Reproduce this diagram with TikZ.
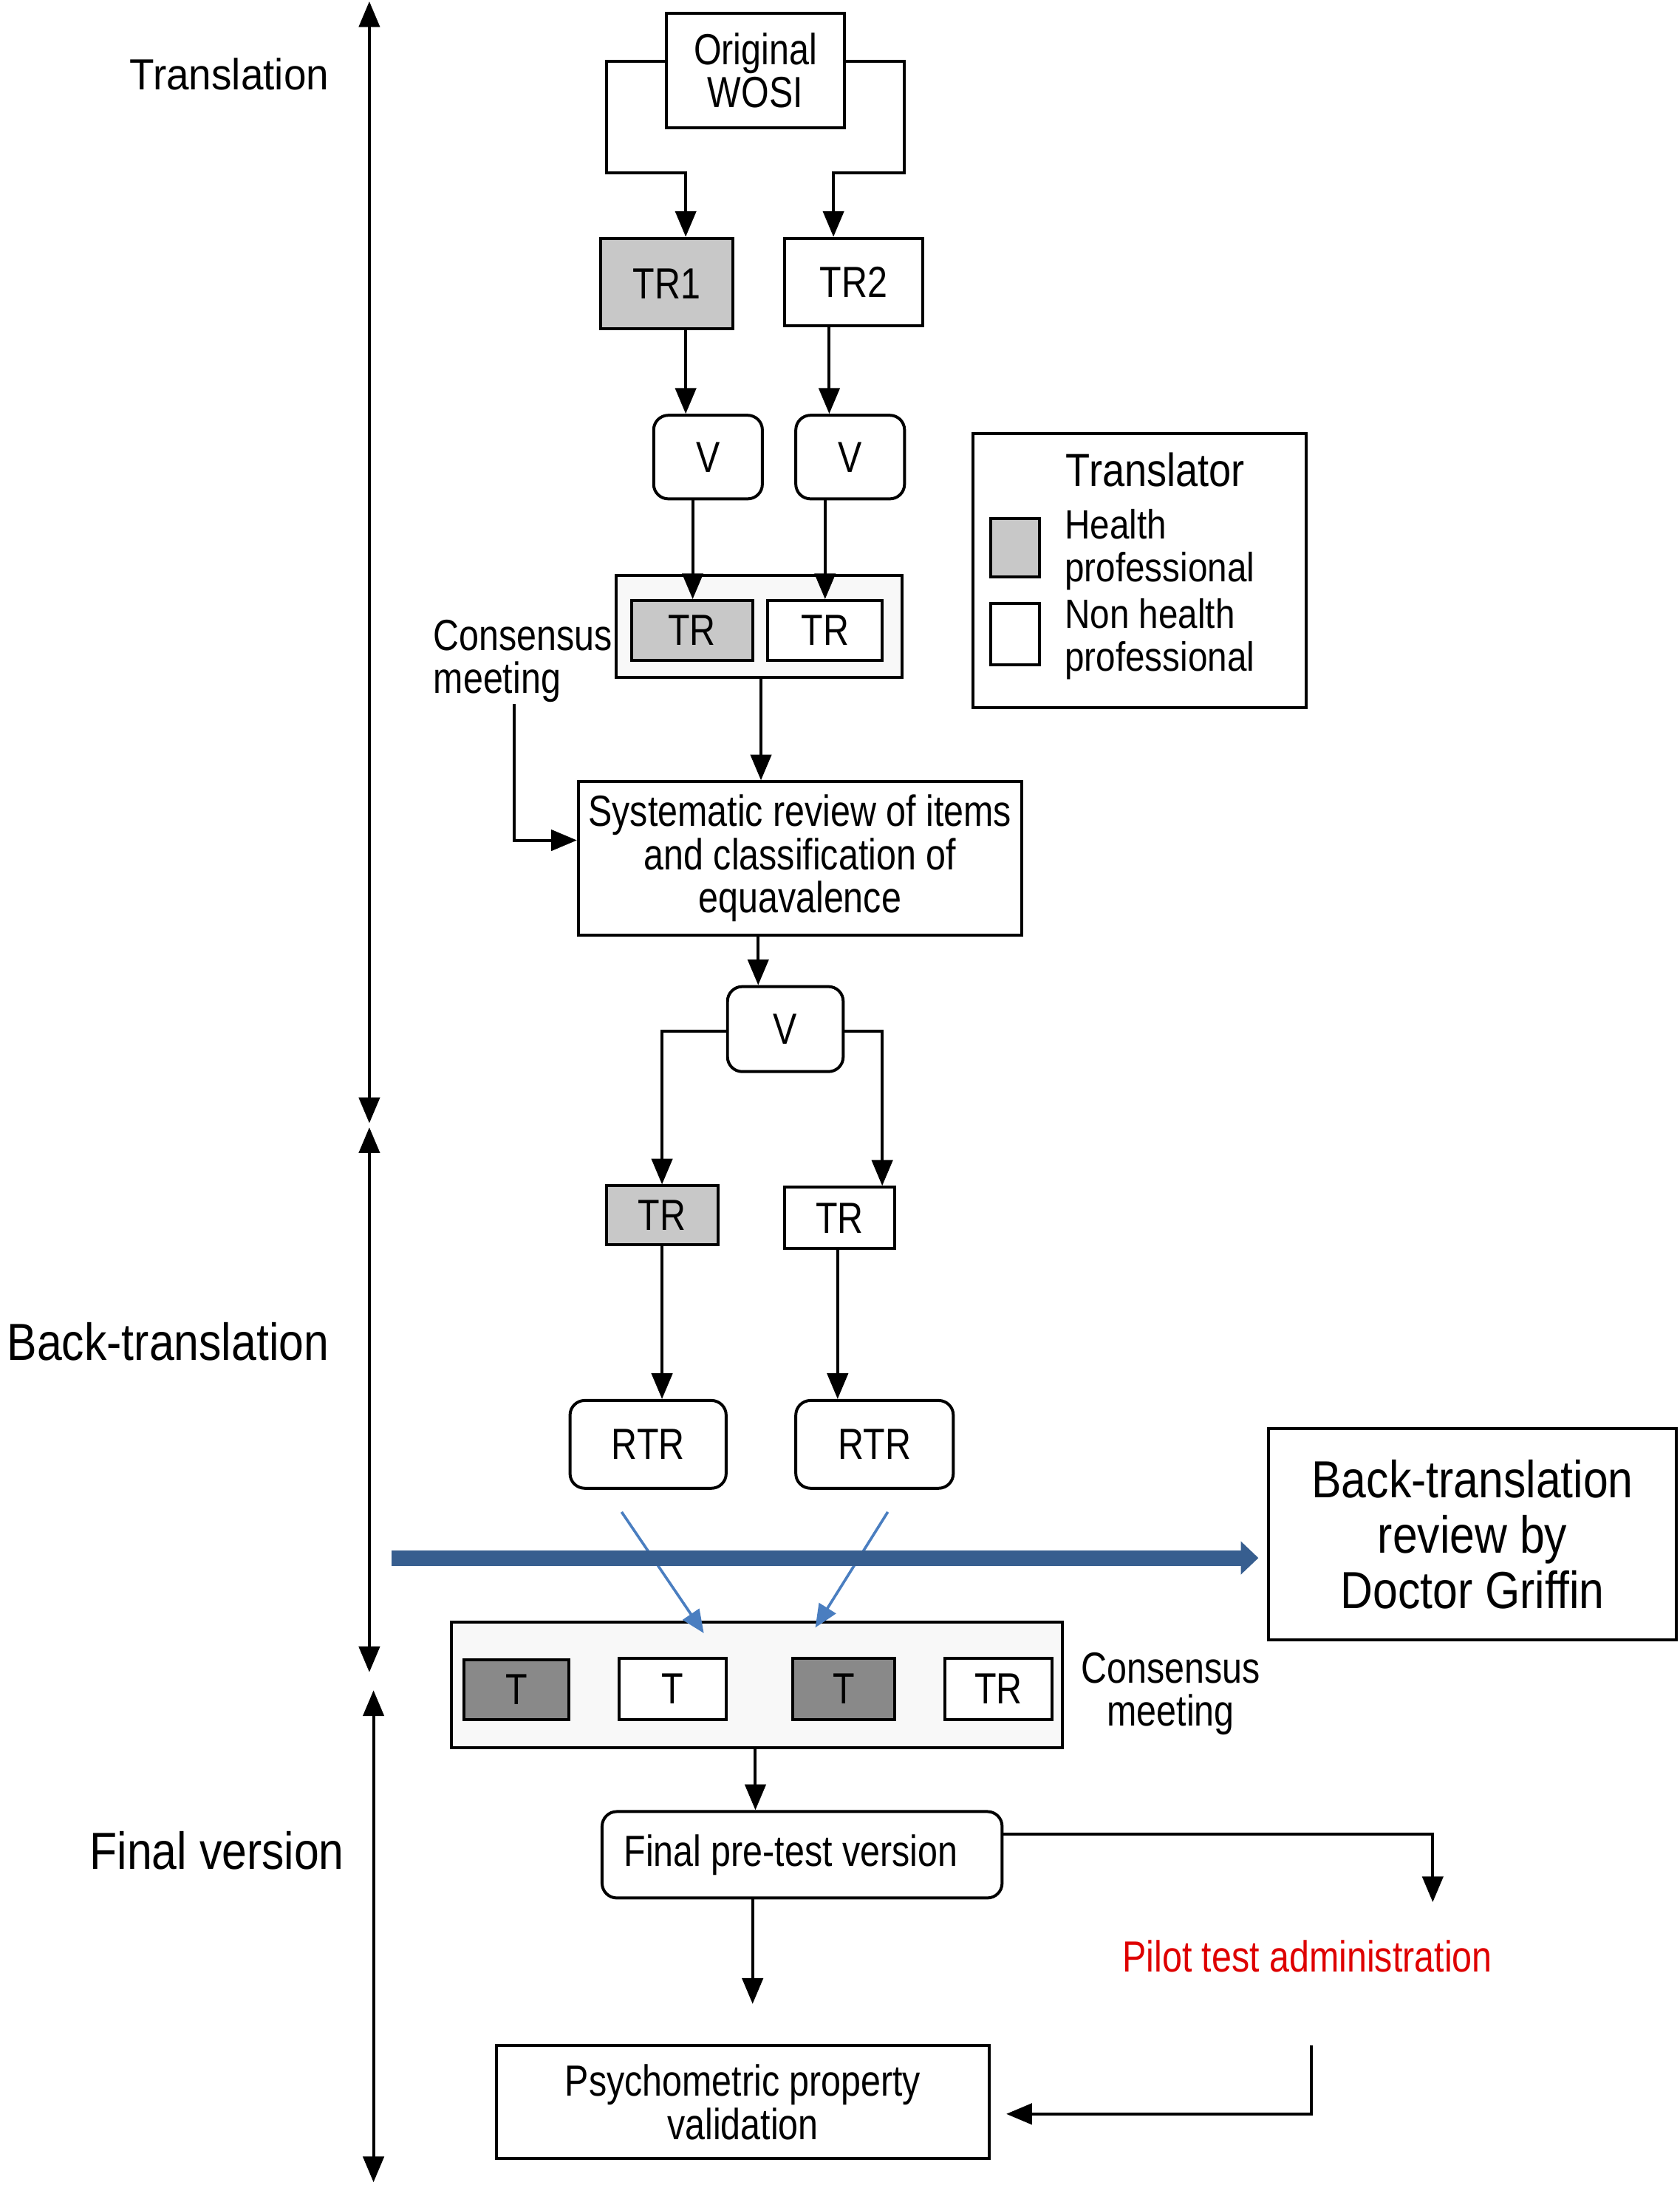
\documentclass[tikz,border=0pt]{standalone}
\usepackage{xcolor}
\usepackage{fontspec}
\setmainfont[FakeStretch=0.82]{Liberation Sans}
\newfontfamily\bigfont[FakeStretch=0.86]{Liberation Sans}
\newfontfamily\labelfont[FakeStretch=0.93]{Liberation Sans}
\usepackage{tikz}
\usetikzlibrary{positioning}
\usetikzlibrary{arrows.meta}

\definecolor{hpgray}{RGB}{200,200,200}
\definecolor{tgray}{RGB}{137,137,137}
\definecolor{groupfill}{RGB}{248,248,248}
\definecolor{bluedark}{RGB}{55,94,143}
\definecolor{bluelight}{RGB}{74,126,192}
\definecolor{pilotred}{RGB}{222,0,0}

\begin{document}
\begin{tikzpicture}[x=0.2mm,y=-0.2mm,line width=1.2pt,>={Triangle[length=10.5pt,width=8.5pt]},
  box/.style={draw=black,line width=1.2pt,inner sep=0pt,align=center,font=\fontsize{17.8}{17.6}\selectfont},
  roundbox/.style={box,rounded corners=6pt},
  group/.style={draw=black,line width=1.2pt,fill=groupfill,inner sep=0pt},
  txt/.style={inner sep=0pt,font=\fontsize{17.8}{17.6}\selectfont},
  legendtxt/.style={inner sep=0pt,align=left,anchor=west,font=\bigfont\fontsize{16.7}{17.6}\selectfont},
  biglabel/.style={inner sep=0pt,font=\bigfont\fontsize{21.3}{22.7}\selectfont},
  bluelink/.style={draw=bluelight,line width=1.1pt,-{Triangle[length=9.4pt,width=8pt]}},
  reviewarrow/.style={draw=bluedark,line width=6.3pt,-{Triangle[length=7.2pt,width=13.2pt]}}]

\useasboundingbox (0,0) rectangle (1205,1568);

%TRANSLATION
\node[box,minimum width=25.6mm,minimum height=16.4mm](orig)at(542,50.5){Original\\WOSI};
\node[box,fill=hpgray,minimum width=19mm,minimum height=13mm](tr1)at(478.5,203.5){TR1};
\node[box,minimum width=19.8mm,minimum height=12.6mm](tr2)at(612.5,202.5){TR2};
\node[roundbox,minimum width=15.6mm,minimum height=12mm](v1)at(508,328){V};
\node[roundbox,minimum width=15.6mm,minimum height=12mm](v2)at(610,328){V};
\node[group,minimum width=41mm,minimum height=14.6mm](cons1)at(544.5,449.5){};
\node[box,fill=hpgray,minimum width=17.4mm,minimum height=8.6mm](cons1-a)at(496.5,452.5){TR};
\node[box,fill=white,minimum width=16.4mm,minimum height=8.6mm](cons1-b)at(592,452.5){TR};
\node[txt,align=left,anchor=west](cons1-label)at(310,474.5){Consensus\\meeting};
\node[box,minimum width=63.6mm,minimum height=22mm](sys)at(574,616){Systematic review of items\\and classification of\\equavalence};
\node[roundbox,minimum width=16.6mm,minimum height=12.2mm](v3)at(563.5,738.5){V};

%LEGEND
\node[draw=black,line width=1.2pt,minimum width=47.8mm,minimum height=39.4mm](legend)at(817.5,409.5){};
\node[inner sep=0pt,font=\bigfont\fontsize{19}{20}\selectfont](legend-title)at(829,337){Translator};
\node[box,fill=hpgray,minimum width=7mm,minimum height=8.4mm](legend-hp)at(728.5,393){};
\node[box,minimum width=7mm,minimum height=8.8mm](legend-nhp)at(728.5,455){};
\node[legendtxt](legend-hp-label)at(763,394.5){Health\\professional};
\node[legendtxt](legend-nhp-label)at(763,458.5){Non health\\professional};

%BACK-TRANSLATION
\node[box,fill=hpgray,minimum width=16mm,minimum height=8.4mm](btr1)at(475,872){TR};
\node[box,minimum width=15.8mm,minimum height=8.8mm](btr2)at(602.5,874){TR};
\node[roundbox,minimum width=22.4mm,minimum height=12.6mm](rtr1)at(465,1036.5){RTR};
\node[roundbox,minimum width=22.6mm,minimum height=12.6mm](rtr2)at(627.5,1036.5){RTR};
\node[box,font=\bigfont\fontsize{21.3}{22.7}\selectfont,minimum width=58.6mm,minimum height=30.4mm](review)at(1056.5,1101){Back-translation\\review by\\Doctor Griffin};
\node[group,minimum width=87.6mm,minimum height=18mm](cons2)at(543,1209){};
\node[box,fill=tgray,minimum width=15mm,minimum height=8.6mm](cons2-a)at(370.5,1212.5){T};
\node[box,fill=white,minimum width=15.4mm,minimum height=8.8mm](cons2-b)at(482.5,1212){T};
\node[box,fill=tgray,minimum width=14.6mm,minimum height=8.8mm](cons2-c)at(605.5,1212){T};
\node[box,fill=white,minimum width=15.4mm,minimum height=8.8mm](cons2-d)at(716.5,1212){TR};
\node[txt,align=center](cons2-label)at(840,1215.5){Consensus\\meeting};

%FINAL
\node[roundbox,minimum width=57.4mm,minimum height=12.4mm](final)at(575.5,1331){\hspace*{-3.2mm}Final pre-test version};
\node[txt,text=pilotred](pilot)at(938,1404){Pilot test administration};
\node[box,minimum width=70.8mm,minimum height=16.2mm](psych)at(533,1508.5){Psychometric property\\validation};

%LABELs
\node[inner sep=0pt,anchor=east,font=\labelfont\fontsize{17.8}{19}\selectfont](trans-label)at(237,53){Translation};
\node[biglabel,anchor=east](back-label)at(237,963){Back-translation};
\node[biglabel,anchor=east](final-label)at(248,1328){Final version};

%PHASES
\coordinate (trans-top) at (265,1);
\coordinate (trans-bot) at (265,806);
\coordinate (back-top) at (265,809);
\coordinate (back-bot) at (265,1200);
\coordinate (final-top) at (268,1213);
\coordinate (final-bot) at (268,1566);
\draw[<->] (trans-top) -- (trans-bot);
\draw[<->] (back-top) -- (back-bot);
\draw[<->] (final-top) -- (final-bot);

%ARROWS translation
\draw[->] ([yshift=1.3mm]orig.west) -| (435,124) -| (tr1.north -| 492,0);
\draw[->] ([yshift=1.3mm]orig.east) -| (649,124) -| (tr2.north -| 598,0);
\draw[->] (tr1.south -| 492,0) -- (v1.north -| 492,0);
\draw[->] (tr2.south -| 595,0) -- (v2.north -| 595,0);
\draw[->] (v1.south -| 497,0) -- (cons1-a.north -| 497,0);
\draw[->] (v2.south -| 592,0) -- (cons1-b.north -| 592,0);
\draw[->] (cons1.south -| 546,0) -- (sys.north -| 546,0);
\draw[->] (cons1-label.south -| 369,0) |- (sys.west |- 0,603);
\draw[->] (sys.south -| 544,0) -- (v3.north -| 544,0);

%ARROWS back-translation
\draw[->] ([yshift=-0.3mm]v3.west) -| (btr1.north);
\draw[->] ([yshift=-0.3mm]v3.east) -| (btr2.north -| 633,0);
\draw[->] (btr1.south) -- (rtr1.north -| btr1.south);
\draw[->] (btr2.south -| 601,0) -- (rtr2.north -| 601,0);

\coordinate (rtr1-out) at (446,1085);
\coordinate (cons2-in1) at (505,1172);
\coordinate (rtr2-out) at (637,1085);
\coordinate (cons2-in2) at (585,1168);
\draw[bluelink] (rtr1-out) -- (cons2-in1);
\draw[bluelink] (rtr2-out) -- (cons2-in2);

\coordinate (review-from) at (281,1118);
\draw[reviewarrow,shorten >=1.2mm] (review-from) -- (review.west |- review-from);

%ARROWS final
\draw[->] (cons2.south -| 542,0) -- (final.north -| 542,0);
\coordinate (pilot-in) at (1028,1365);
\draw[->] (final.east |- 0,1316) -| (pilot-in);
\coordinate (psych-in) at (540,1438);
\draw[->] (final.south -| psych-in) -- (psych-in);
\coordinate (pilot-out) at (941,1468);
\coordinate (psych-back) at (722,1517);
\draw[->] (pilot-out) |- (psych-back);

\end{tikzpicture}
\end{document}
